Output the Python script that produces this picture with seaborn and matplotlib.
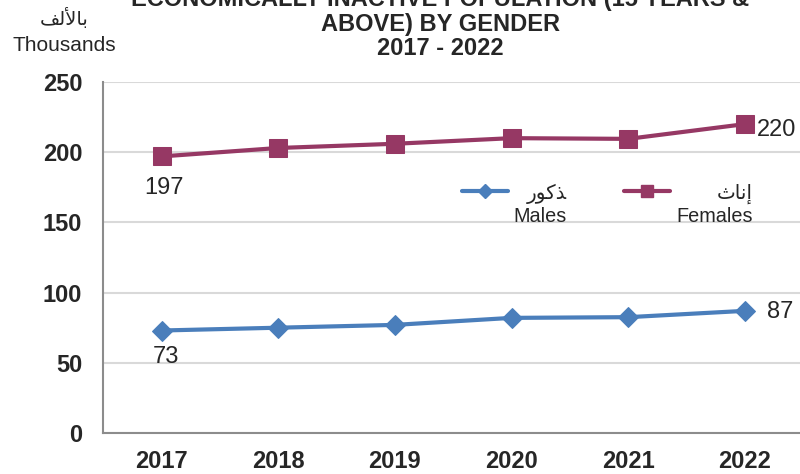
import matplotlib
matplotlib.use("Agg")
import matplotlib.pyplot as plt
import seaborn as sns
import pandas as pd
from matplotlib.lines import Line2D
from matplotlib.legend_handler import HandlerLine2D

# Data
years = [2017, 2018, 2019, 2020, 2021, 2022]
males = [73, 75, 77, 82, 82.5, 87]
females = [197, 203, 206, 210, 209.5, 220]
y_ticks = [0, 50, 100, 150, 200, 250]

# Arabic text pre-shaped (presentation forms, visual order)
AR_MALES = "\uFEAD\uFEEE\uFEDB\uFEAC"          # ذكور
AR_FEMALES = "\uFE99\uFE8E\uFEE7\uFE87"        # إناث
AR_THOUSANDS = "\uFED2\uFEDF\uFEF7\uFE8E\uFE91"  # بالألف

COL_M = "#4A7EBB"
COL_F = "#963864"
FONTS = ["Liberation Sans", "DejaVu Sans"]

sns.set_style("white")
plt.rcParams["font.family"] = FONTS

df = pd.DataFrame({"Year": years, "Males": males, "Females": females})

fig = plt.figure(figsize=(8, 4.74), dpi=100)
ax = fig.add_axes([0.129, 0.0865, 0.875, 0.7405])

sns.lineplot(data=df, x="Year", y="Females", ax=ax, color=COL_F, marker="s",
             markersize=13, markeredgecolor=COL_F, linewidth=3, zorder=3)
sns.lineplot(data=df, x="Year", y="Males", ax=ax, color=COL_M, marker="D",
             markersize=10, markeredgecolor=COL_M, linewidth=3, zorder=3)

ax.set_xlim(years[0] - 0.5, years[-1] + 0.5)
ax.set_ylim(y_ticks[0], y_ticks[-1])
ax.set_xticks(years)
ax.set_yticks(y_ticks)
ax.set_xlabel("")
ax.set_ylabel("")
ax.tick_params(axis="both", length=0, labelsize=17)
ax.tick_params(axis="y", pad=15)
ax.tick_params(axis="x", pad=12)
for lbl in ax.get_xticklabels() + ax.get_yticklabels():
    lbl.set_fontweight("bold")

ax.grid(axis="y", color="#D9D9D9", linewidth=1.5)
ax.set_axisbelow(True)
for side in ["top", "right"]:
    ax.spines[side].set_visible(False)
for side in ["left", "bottom"]:
    ax.spines[side].set_color("#8C8C8C")
    ax.spines[side].set_linewidth(1.5)

# data labels (first / last)
ax.annotate(f"{females[0]:.0f}", (years[0], females[0]), xytext=(2, -23),
            textcoords="offset points", ha="center", va="center", fontsize=17)
ax.annotate(f"{males[0]:.0f}", (years[0], males[0]), xytext=(3, -19),
            textcoords="offset points", ha="center", va="center", fontsize=17)
ax.annotate(f"{females[-1]:.0f}", (years[-1], females[-1]), xytext=(9, -4),
            textcoords="offset points", ha="left", va="center", fontsize=17)
ax.annotate(f"{males[-1]:.0f}", (years[-1], males[-1]), xytext=(16, -1),
            textcoords="offset points", ha="left", va="center", fontsize=17)


class RaisedLine(HandlerLine2D):
    # put the swatch on the Arabic (top) line of the label
    def create_artists(self, legend, orig_handle, xdescent, ydescent,
                       width, height, fontsize, trans):
        arts = super().create_artists(legend, orig_handle, xdescent, ydescent,
                                      width, height, fontsize, trans)
        for a in arts:
            a.set_ydata([y + 0.7 * fontsize for y in a.get_ydata()])
        return arts


handles = [
    Line2D([], [], color=COL_M, marker="D", markersize=7, linewidth=3),
    Line2D([], [], color=COL_F, marker="s", markersize=8, linewidth=3),
]
labels = [AR_MALES + "\nMales", AR_FEMALES + "\nFemales"]
leg = ax.legend(handles, labels, ncol=2, frameon=False, fontsize=14.3,
                handlelength=2.3, handletextpad=0.3, columnspacing=2.9,
                loc="center", bbox_to_anchor=(0.72, 0.65),
                handler_map={Line2D: RaisedLine()})
for t in leg.get_texts():
    t.set_multialignment("right")

# title (top line clipped by the figure edge as in the source)
fig.text(0.55, 0.949,
         "ECONOMICALLY INACTIVE POPULATION (15 YEARS &\nABOVE) BY GENDER\n2017 - 2022",
         ha="center", va="center", fontsize=17, fontweight="bold", linespacing=1.1)

fig.text(0.08, 0.962, AR_THOUSANDS, ha="center", va="center", fontsize=14)
fig.text(0.08, 0.905, "Thousands", ha="center", va="center", fontsize=15)

fig.savefig("out.png", dpi=100, facecolor="white")
